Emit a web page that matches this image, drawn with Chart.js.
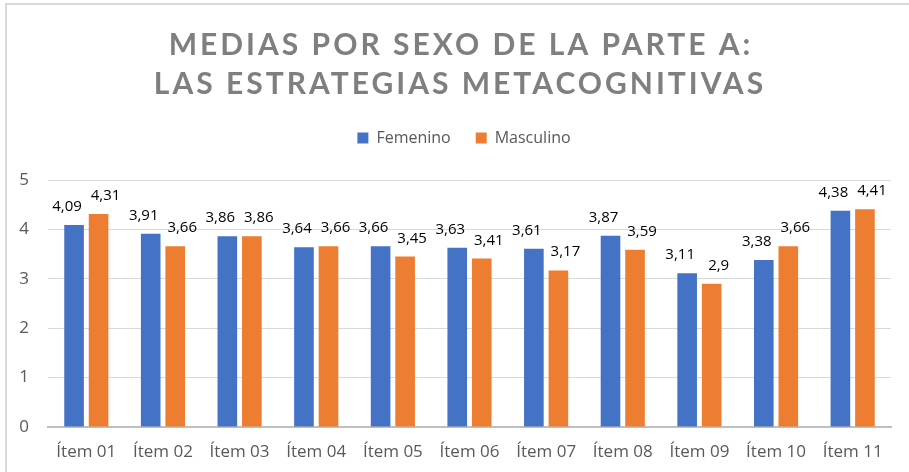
<!DOCTYPE html>
<html>
<head>
<meta charset="utf-8">
<script src="https://cdn.jsdelivr.net/npm/chart.js@4.4.1/dist/chart.umd.min.js"></script>
<style>
  html, body { margin: 0; padding: 0; background: #fff; }
  #wrap { width: 909px; height: 472px; }
</style>
</head>
<body>
<div id="wrap"><canvas id="chart"></canvas></div>
<script>
// data
const items = ['Ítem 01', 'Ítem 02', 'Ítem 03', 'Ítem 04', 'Ítem 05', 'Ítem 06',
  'Ítem 07', 'Ítem 08', 'Ítem 09', 'Ítem 10', 'Ítem 11'];
const femenino = [4.09, 3.91, 3.86, 3.64, 3.66, 3.63, 3.61, 3.87, 3.11, 3.38, 4.38];
const masculino = [4.31, 3.66, 3.86, 3.66, 3.45, 3.41, 3.17, 3.59, 2.9, 3.66, 4.41];
const yTicks = [0, 1, 2, 3, 4, 5];
const titleLines = ['MEDIAS POR SEXO DE LA PARTE A:', 'LAS ESTRATEGIAS METACOGNITIVAS'];

const FONT = '"Open Sans", sans-serif';
const TITLE_FONT = 'Lato, "Open Sans", sans-serif';

// frame + title drawn by hand so we can get the letter spacing
const framePlugin = {
  id: 'framePlugin',
  beforeInit(chart) {
    // extra room under the legend
    const fit = chart.legend.fit;
    chart.legend.fit = function () {
      fit.call(this);
      this.height += 24;
    };
  },
  afterLayout(chart) {
    // legend sits a little right of centre in the original
    chart.legend.left += 9;
    chart.legend.right += 9;
  },
  beforeDraw(chart) {
    const ctx = chart.ctx;
    ctx.save();
    ctx.fillStyle = '#d9d9d9';
    ctx.fillRect(5, 3, chart.width - 5, 2);
    ctx.fillRect(5, 3, 2, chart.height - 3);
    ctx.restore();
  },
  afterDraw(chart) {
    const ctx = chart.ctx;
    ctx.save();
    ctx.font = 'bold 30px ' + TITLE_FONT;
    ctx.fillStyle = '#7f7f7f';
    ctx.letterSpacing = '3px';
    ctx.textAlign = 'center';
    ctx.textBaseline = 'middle';
    ctx.fillText(titleLines[0], 461, 45);
    ctx.fillText(titleLines[1], 460, 84);
    ctx.restore();
  }
};

// value labels above each bar, decimal comma, nudged outward a bit like excel does
const labelPlugin = {
  id: 'labelPlugin',
  afterDatasetsDraw(chart) {
    const ctx = chart.ctx;
    ctx.save();
    ctx.font = '15px ' + FONT;
    ctx.fillStyle = '#000';
    ctx.textAlign = 'center';
    ctx.textBaseline = 'alphabetic';
    chart.data.datasets.forEach((ds, di) => {
      const meta = chart.getDatasetMeta(di);
      const shift = di === 0 ? -7 : 7;
      meta.data.forEach((bar, i) => {
        const txt = String(ds.data[i]).replace('.', ',');
        ctx.fillText(txt, bar.x + shift, bar.y - 14);
      });
    });
    ctx.restore();
  }
};

new Chart(document.getElementById('chart'), {
  type: 'bar',
  data: {
    labels: items,
    datasets: [
      { label: 'Femenino', data: femenino, backgroundColor: '#4472c4' },
      { label: 'Masculino', data: masculino, backgroundColor: '#ed7d31' }
    ]
  },
  options: {
    responsive: true,
    maintainAspectRatio: false,
    animation: false,
    categoryPercentage: 0.64,
    barPercentage: 0.8,
    layout: { padding: { top: 105, left: 19, right: 18, bottom: 10 } },
    plugins: {
      title: { display: false },
      tooltip: { enabled: false },
      legend: {
        position: 'top',
        labels: {
          font: { family: FONT, size: 16 },
          color: '#595959',
          boxWidth: 11,
          boxHeight: 11,
          padding: 25
        }
      }
    },
    scales: {
      x: {
        grid: { display: false, drawTicks: false },
        border: { color: '#bfbfbf', width: 2 },
        ticks: { font: { family: FONT, size: 17 }, color: '#595959', padding: 15 },
        afterFit(scale) {
          scale.height = 35;
          scale.paddingLeft = 0;
          scale.paddingRight = 0;
        }
      },
      y: {
        min: 0,
        max: 5,
        afterBuildTicks(axis) { axis.ticks = yTicks.map(v => ({ value: v })); },
        grid: { color: '#d9d9d9', drawTicks: false },
        border: { display: false },
        ticks: { font: { family: FONT, size: 17 }, color: '#595959', padding: 19 },
        afterFit(scale) {
          scale.width = 29;
          scale.paddingTop = 0;
          scale.paddingBottom = 0;
        }
      }
    }
  },
  plugins: [framePlugin, labelPlugin]
});
</script>
</body>
</html>
